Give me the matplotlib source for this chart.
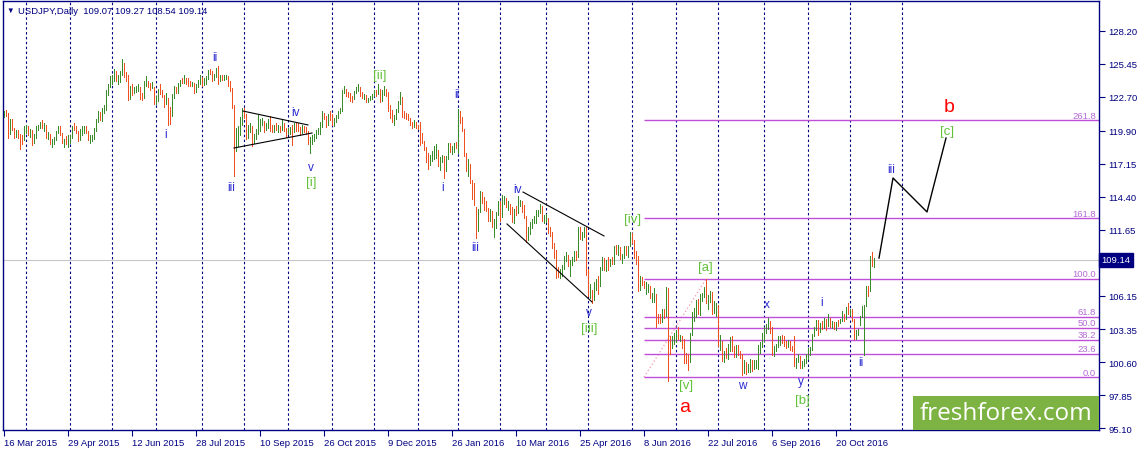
import numpy as np
import pandas as pd
import matplotlib
matplotlib.use("Agg")
import matplotlib.pyplot as plt
from matplotlib.patches import Rectangle
from matplotlib.transforms import blended_transform_factory


SYMBOL = "USDJPY,Daily"
FIRST_OPEN = 121.3
LAST_PRICE = 109.14

# daily bars Mar 2015 .. Nov 2016, one row per month
bar_close = [
    121.4, 121.35, 119.8, 120.75, 120.05, 119.7, 119.75, 119.6, 119.2, 119.15, 120.1, 120.15,
    119.7, 119.8, 119.0, 119.45, 120.1, 120.2, 120.6, 120.25, 120.25, 119.45, 119.6, 118.9, 118.95, 119.2, 119.7, 120.2, 119.6, 118.95, 119.0, 118.95, 119.0, 119.35,
    120.2, 120.1, 119.8, 119.4, 119.75, 119.75, 120.15, 119.85, 119.2, 119.3, 119.35, 120.05, 120.7, 121.3, 120.95, 121.5, 121.75, 123.1, 123.6, 124.05, 124.1,
    124.8, 124.2, 124.3, 124.6, 125.6, 124.55, 124.35, 122.45, 123.45, 123.35, 123.4, 123.4, 123.4, 122.75, 122.7, 123.9, 123.95, 123.75, 123.6, 123.85, 122.5, 122.5,
    123.15, 123.1, 122.8, 122.5, 122.6, 121.25, 121.1, 122.75, 123.45, 123.35, 123.75, 124.1, 124.05, 124.25, 123.95, 123.85, 123.8, 123.8, 123.25, 123.6, 123.95, 124.1, 123.9,
    123.95, 124.2, 124.8, 124.75, 124.2, 124.55, 125.05, 124.4, 124.4, 124.3, 124.35, 124.4, 123.8, 123.4, 122.0, 118.5, 118.95, 119.9, 120.6, 121.7, 121.2,
    119.7, 120.05, 120.05, 119.05, 119.4, 119.75, 120.25, 120.6, 120.6, 120.15, 120.4, 120.6, 120.0, 119.95, 120.3, 120.15, 120.25, 120.05, 120.55, 119.9, 119.8, 119.85,
    119.95, 119.85, 120.35, 120.2, 120.15, 119.9, 120.2, 120.1, 119.8, 118.85, 118.85, 119.45, 119.45, 119.85, 119.9, 120.3, 121.45, 121.05, 120.5, 121.1, 121.05, 120.6,
    120.75, 121.05, 121.5, 121.75, 123.15, 123.2, 123.15, 122.95, 122.6, 122.55, 123.15, 123.4, 123.4, 122.85, 122.8, 122.8, 122.5, 122.55, 122.65, 122.8, 123.15,
    123.05, 123.2, 122.55, 123.1, 123.35, 123.0, 121.6, 121.55, 120.85, 120.95, 121.65, 122.25, 122.65, 121.25, 121.15, 121.05, 120.9, 120.45, 120.4, 120.5, 120.25, 120.2,
    119.4, 119.05, 118.5, 117.7, 117.25, 117.7, 117.7, 118.1, 118.2, 117.0, 117.4, 117.75, 116.85, 117.6, 118.75, 118.25, 118.5, 118.75, 118.6, 121.1,
    120.95, 119.95, 117.9, 116.85, 116.85, 115.7, 115.0, 114.35, 112.4, 113.2, 114.6, 114.05, 113.95, 113.25, 112.55, 112.85, 111.95, 112.1, 112.95, 113.95, 112.65,
    114.0, 114.0, 113.7, 113.75, 113.4, 112.6, 113.3, 113.2, 113.8, 113.85, 113.15, 112.65, 111.45, 111.55, 111.95, 112.4, 112.4, 113.0, 113.05, 113.45, 112.45, 112.45, 112.55,
    111.65, 111.35, 110.3, 109.8, 108.1, 108.05, 108.05, 108.55, 109.3, 109.35, 108.8, 108.85, 109.25, 109.8, 109.4, 111.75, 111.15, 111.3, 111.4, 108.1, 106.35,
    106.45, 106.15, 107.05, 107.25, 107.1, 108.35, 109.3, 108.45, 108.95, 108.6, 109.05, 109.0, 110.2, 109.9, 110.15, 109.25, 109.35, 110.15, 109.75, 110.2, 111.1, 110.7,
    109.55, 108.95, 106.55, 107.55, 107.35, 106.9, 106.95, 106.95, 106.05, 106.05, 106.05, 104.25, 104.15, 104.05, 104.75, 104.6, 106.15, 102.25, 101.95, 102.65, 102.75, 103.2,
    102.55, 102.65, 102.05, 101.3, 100.85, 100.55, 102.9, 104.7, 104.75, 105.65, 104.85, 106.15, 106.2, 106.85, 106.0, 106.15, 106.35, 104.85, 105.3, 105.35, 102.05,
    102.3, 100.85, 101.3, 101.2, 101.8, 102.5, 101.85, 101.2, 101.9, 101.3, 101.25, 100.25, 100.25, 99.9, 100.2, 100.75, 100.25, 100.5, 100.5, 101.8, 101.95, 102.95, 103.45,
    103.45, 103.95, 103.45, 101.55, 101.75, 101.95, 102.6, 102.7, 102.55, 102.3, 102.05, 102.3, 101.75, 101.7, 100.35, 100.75, 100.95, 100.35, 100.5, 100.7, 101.05, 101.35,
    101.7, 102.9, 103.5, 103.95, 102.95, 103.65, 103.55, 104.25, 103.65, 104.2, 103.85, 103.85, 103.5, 103.95, 103.85, 104.2, 104.3, 104.25, 105.15, 104.7, 104.8,
    104.2, 102.75, 103.1, 103.1, 104.45, 105.2, 105.3, 106.85, 106.6, 109.2, 109.07, 109.14,
]

bar_high = [
    121.55, 121.6, 121.4, 120.9, 120.9, 120.1, 119.95, 119.95, 119.65, 119.5, 120.25, 120.35,
    120.3, 120.0, 119.95, 119.6, 120.3, 120.4, 120.65, 120.8, 120.55, 120.4, 119.8, 119.65, 119.2, 119.4, 119.85, 120.25, 120.3, 119.7, 119.2, 119.45, 119.5, 119.55,
    120.3, 120.5, 120.25, 119.9, 120.0, 120.3, 120.3, 120.3, 119.85, 119.5, 119.5, 120.1, 120.85, 121.5, 121.45, 121.75, 122.0, 123.3, 123.75, 124.45, 124.5,
    125.05, 124.85, 124.5, 124.85, 125.85, 125.5, 124.75, 124.5, 123.6, 123.8, 123.55, 123.65, 123.75, 123.5, 123.05, 124.0, 124.45, 124.05, 123.9, 123.95, 123.55, 122.8,
    123.35, 123.75, 123.25, 122.9, 123.0, 122.65, 121.85, 122.95, 123.65, 123.55, 123.9, 124.15, 124.3, 124.5, 124.3, 124.25, 124.05, 123.95, 123.85, 123.75, 124.1, 124.55, 124.35,
    124.3, 124.45, 124.95, 125.05, 124.9, 124.65, 125.15, 125.3, 124.55, 124.5, 124.55, 124.55, 124.45, 124.05, 123.45, 122.05, 120.15, 120.25, 121.0, 121.75, 121.75,
    121.3, 120.4, 120.55, 120.25, 119.6, 120.0, 121.2, 120.85, 120.95, 120.7, 120.5, 120.85, 121.1, 120.35, 120.35, 120.5, 120.35, 120.3, 120.75, 120.5, 120.1, 120.15,
    120.2, 120.35, 120.5, 120.55, 120.5, 120.2, 120.35, 120.3, 120.2, 119.85, 119.4, 119.55, 119.6, 119.95, 120.1, 120.6, 121.5, 121.35, 121.15, 121.25, 121.5, 121.25,
    120.95, 121.2, 121.55, 121.8, 123.25, 123.6, 123.35, 123.15, 123.05, 122.8, 123.2, 123.5, 123.75, 123.5, 123.1, 122.95, 122.85, 122.65, 122.8, 122.95, 123.3,
    123.3, 123.75, 123.4, 123.3, 123.65, 123.35, 123.1, 122.05, 121.65, 121.2, 121.7, 122.4, 123.1, 122.7, 121.5, 121.35, 121.3, 120.95, 120.65, 120.75, 120.6, 120.4,
    120.65, 119.7, 119.05, 118.55, 118.0, 117.9, 118.2, 118.65, 118.75, 118.3, 117.7, 117.85, 117.75, 117.75, 118.9, 118.85, 118.6, 118.85, 118.95, 121.7,
    121.5, 121.05, 120.05, 118.05, 117.55, 117.1, 115.8, 115.5, 113.55, 113.4, 114.85, 114.75, 114.35, 114.05, 113.45, 113.4, 113.2, 112.55, 113.1, 114.0, 114.0,
    114.55, 114.45, 114.25, 114.0, 113.8, 113.5, 113.4, 113.65, 114.45, 114.15, 114.0, 113.7, 112.75, 111.9, 112.25, 112.5, 112.75, 113.25, 113.3, 113.8, 113.6, 112.85, 112.95,
    112.6, 111.9, 111.45, 110.5, 109.95, 108.55, 108.35, 108.7, 109.45, 109.75, 109.5, 109.15, 109.4, 109.85, 109.9, 111.85, 111.85, 111.45, 111.9, 111.85, 108.4,
    107.15, 106.65, 107.3, 107.5, 107.75, 108.55, 109.4, 109.3, 109.15, 109.4, 109.2, 109.4, 110.25, 110.35, 110.4, 110.2, 109.6, 110.25, 110.3, 110.3, 111.45, 111.4,
    110.8, 109.85, 109.45, 107.8, 107.7, 107.4, 107.25, 107.1, 106.95, 106.4, 106.75, 106.3, 104.65, 104.6, 105.05, 105.0, 106.85, 106.8, 102.75, 102.8, 103.0, 103.3,
    103.5, 102.85, 102.75, 102.5, 101.35, 101.25, 103.0, 104.75, 105.15, 105.75, 105.9, 106.3, 106.4, 106.9, 107.5, 106.2, 106.55, 106.45, 105.7, 105.5, 105.4,
    102.85, 102.4, 101.5, 101.75, 102.1, 102.7, 102.8, 101.95, 102.05, 102.05, 101.5, 101.25, 100.8, 100.6, 100.45, 100.9, 100.8, 100.75, 100.8, 102.05, 102.25, 103.05, 103.55,
    103.8, 104.3, 104.0, 103.5, 101.95, 102.15, 102.75, 102.8, 102.9, 102.75, 102.35, 102.45, 102.4, 101.95, 102.8, 100.95, 101.3, 101.1, 100.7, 100.85, 101.25, 101.75,
    101.85, 102.95, 103.55, 104.15, 104.15, 103.85, 104.05, 104.3, 104.2, 104.65, 104.25, 104.05, 103.95, 103.95, 104.1, 104.2, 104.85, 104.6, 105.2, 105.5, 105.05,
    105.0, 104.2, 103.3, 103.4, 104.45, 105.3, 105.4, 106.95, 106.95, 109.45, 109.8, 109.27,
]

bar_low = [
    121.0, 121.1, 119.3, 119.6, 119.95, 119.3, 119.4, 119.3, 118.35, 118.75, 119.1, 119.7,
    119.55, 119.4, 118.7, 118.85, 119.3, 119.95, 120.1, 120.15, 119.85, 119.3, 119.2, 118.75, 118.55, 118.75, 119.1, 119.7, 119.5, 118.85, 118.55, 118.8, 118.5, 118.85,
    119.3, 119.95, 119.7, 119.05, 119.15, 119.5, 119.7, 119.7, 119.1, 118.9, 119.05, 119.2, 119.9, 120.6, 120.8, 120.7, 121.4, 121.65, 122.9, 123.5, 123.75,
    124.05, 124.0, 123.75, 123.95, 124.5, 124.35, 124.05, 122.45, 122.55, 122.9, 123.05, 123.15, 123.2, 122.55, 122.45, 122.6, 123.65, 123.55, 123.3, 123.45, 122.1, 122.15,
    122.35, 122.95, 122.7, 121.9, 122.15, 120.4, 120.45, 121.15, 122.65, 123.0, 123.05, 123.6, 123.85, 123.9, 123.75, 123.65, 123.6, 123.6, 123.0, 123.1, 123.5, 123.8, 123.65,
    123.7, 123.8, 124.2, 124.6, 124.0, 124.15, 124.4, 123.8, 124.0, 124.1, 124.15, 124.2, 123.65, 123.2, 121.8, 116.15, 118.2, 118.65, 119.5, 120.35, 120.95,
    119.2, 119.25, 119.75, 118.6, 118.85, 119.2, 119.65, 119.9, 120.35, 119.8, 119.95, 120.1, 119.9, 119.75, 119.75, 119.95, 119.8, 119.75, 119.95, 119.85, 119.4, 119.6,
    119.6, 118.7, 119.75, 119.85, 119.85, 119.55, 119.7, 119.75, 119.65, 118.75, 118.05, 118.75, 119.05, 119.3, 119.6, 119.65, 120.2, 120.85, 120.2, 120.35, 120.75, 120.35,
    120.3, 120.6, 120.95, 121.4, 121.55, 123.0, 122.8, 122.7, 122.35, 122.25, 122.55, 123.05, 123.2, 122.75, 122.65, 122.5, 122.25, 122.3, 122.45, 122.55, 122.75,
    122.8, 122.95, 122.3, 122.4, 122.9, 122.75, 121.5, 120.95, 120.65, 120.35, 120.85, 121.45, 122.1, 121.05, 120.95, 120.85, 120.75, 120.35, 120.1, 120.2, 120.1, 120.05,
    118.7, 118.85, 118.25, 117.3, 116.7, 117.0, 117.4, 117.5, 117.65, 116.95, 116.6, 117.25, 115.95, 116.5, 117.5, 118.1, 117.95, 118.1, 118.45, 118.0,
    120.5, 119.9, 117.75, 116.5, 116.15, 115.55, 114.2, 113.7, 110.98, 111.5, 113.1, 113.9, 113.25, 113.2, 112.35, 112.35, 111.85, 111.05, 111.8, 112.9, 112.4,
    112.7, 113.8, 113.5, 113.3, 112.95, 112.25, 112.2, 112.9, 113.0, 113.65, 113.1, 112.6, 110.65, 110.8, 111.3, 111.8, 112.2, 112.2, 112.8, 113.05, 112.35, 112.2, 112.3,
    111.4, 111.1, 110.1, 109.3, 107.65, 107.7, 107.6, 107.8, 108.4, 109.0, 108.6, 107.8, 108.7, 109.05, 109.1, 109.35, 110.9, 110.8, 111.05, 107.9, 106.1,
    105.95, 105.5, 105.75, 106.65, 106.25, 106.95, 108.3, 108.3, 108.2, 108.25, 108.6, 108.75, 108.8, 109.65, 109.5, 109.2, 108.9, 109.25, 109.55, 109.35, 110.25, 110.55,
    109.3, 108.8, 106.5, 106.6, 107.05, 106.8, 106.25, 106.45, 105.95, 105.65, 105.6, 103.55, 103.9, 103.85, 103.95, 104.25, 104.45, 99.0, 101.3, 101.8, 102.1, 102.25,
    102.5, 102.4, 101.8, 100.5, 100.55, 99.98, 100.6, 102.85, 104.05, 104.4, 104.65, 104.5, 105.7, 106.0, 105.55, 105.0, 105.6, 104.6, 104.7, 104.45, 101.95,
    101.6, 100.7, 100.65, 100.95, 100.85, 101.55, 101.5, 101.0, 101.05, 101.2, 100.95, 99.55, 99.7, 99.6, 99.8, 99.75, 99.85, 100.0, 100.15, 100.05, 101.4, 101.9, 102.35,
    103.0, 103.35, 103.0, 101.2, 101.1, 101.5, 101.9, 102.0, 102.2, 101.95, 101.75, 101.85, 101.6, 101.5, 100.25, 100.1, 100.6, 100.1, 100.1, 100.25, 100.55, 100.9,
    101.2, 101.65, 102.75, 103.3, 102.85, 103.1, 103.35, 103.45, 103.3, 103.65, 103.5, 103.45, 103.35, 103.25, 103.65, 103.85, 104.05, 104.0, 104.2, 104.6, 104.55,
    104.0, 102.55, 102.55, 102.85, 103.7, 104.4, 101.2, 105.3, 106.1, 106.55, 108.6, 108.54,
]

# fibonacci drawn on the Jun-Jul 2016 swing
FIB_START = "2016-06-08"
FIB_END = "2016-07-21"
FIB_LOW = 99.35
FIB_HIGH = 107.53
fib_ratios = [0.0, 23.6, 38.2, 50.0, 61.8, 100.0, 161.8, 261.8]

# hand drawn lines: (bar, price)
triangle_upper = [(119.5, 121.53), (152.0, 120.37)]
triangle_lower = [(115.0, 118.45), (154.0, 119.70)]
wedge_upper = [(259.5, 114.78), (300.0, 111.12)]
wedge_lower = [(251.5, 112.12), (294.0, 105.62)]

# projected path, bars after the last one
proj_bars = [2.5, 9.5, 26.5, 36.0]
proj_price = [109.28, 115.95, 113.12, 119.28]

# wave labels: text, bar, price, degree
wave_labels = [
    ("i", 81.0, 119.62, "minor"), ("ii", 105.5, 126.03, "minor"),
    ("iii", 113.5, 115.2, "minor"), ("iv", 145.5, 121.45, "minor"),
    ("v", 153.5, 116.87, "minor"), ("[i]", 153.5, 115.62, "inter"),
    ("[ii]", 188.0, 124.53, "inter"), ("i", 219.5, 115.2, "minor"),
    ("ii", 226.5, 122.95, "minor"), ("iii", 235.5, 110.2, "minor"),
    ("iv", 256.5, 115.03, "minor"), ("v", 292.5, 104.78, "minor"),
    ("[iii]", 292.5, 103.45, "inter"), ("[iv]", 314.5, 112.53, "inter"),
    ("[v]", 341.0, 98.7, "inter"), ("a", 340.5, 96.87, "major"),
    ("[a]", 350.5, 108.53, "inter"), ("w", 369.0, 98.7, "minor"),
    ("x", 381.5, 105.45, "minor"), ("y", 398.5, 99.03, "minor"),
    ("[b]", 399.0, 97.45, "inter"), ("i", 409.0, 105.62, "minor"),
    ("ii", 428.5, 100.62, "minor"), ("iii", 443.5, 116.7, "minor"),
    ("[c]", 471.5, 119.87, "inter"), ("b", 472.5, 121.87, "major"),
]

# 108.90 sits under the current price box
price_labels = ["128.20", "125.45", "122.70", "119.90", "117.15", "114.40", "111.65",
                "106.15", "103.35", "100.60", "97.85", "95.10"]

NAVY = "#000080"
UP = "#3a8c2a"
DOWN = "#ee5020"
FIB_COL = "#bf4fd9"
FIB_TXT = "#b46bd4"
WAVE_COL = {"minor": ("#2b2bd0", 8.5), "inter": ("#62c23a", 9.5), "major": ("#ff0000", 14)}

plt.rcParams["font.family"] = ["Liberation Sans", "DejaVu Sans"]

dates = pd.bdate_range("2015-03-16", "2016-11-16")
dates = dates.drop([pd.Timestamp("2015-12-25"), pd.Timestamp("2016-01-01")])
assert len(dates) == len(bar_close) == len(bar_high) == len(bar_low)

close = np.array(bar_close)
high = np.array(bar_high)
low = np.array(bar_low)
opens = np.concatenate([[FIRST_OPEN], close[:-1]])
idx = np.arange(len(close))
last = idx[-1]
up = close >= opens

W, H = 1139, 452
fig = plt.figure(figsize=(W / 100, H / 100), dpi=100)
ax = fig.add_axes([3 / W, 21 / H, 1096 / W, 429 / H])
ax.set_xlim(-0.5, 547.5)
ax.set_ylim(94.95, 130.7)

# month separators
month_start = [i for i in idx[1:] if dates[i].month != dates[i - 1].month]
grid_x = [i - 1 for i in month_start]
grid_x.append(last + (pd.Timestamp("2016-12-01") - dates[-1]).days - 1)
for g in grid_x:
    ax.axvline(g, color=NAVY, lw=0.8, ls=(0, (2.2, 2.2)), zorder=1)

ax.axhline(LAST_PRICE, color="#c8c8c8", lw=0.8, zorder=1)

ax.vlines(idx[up], low[up], high[up], color=UP, lw=0.5, antialiased=False, zorder=3)
ax.vlines(idx[~up], low[~up], high[~up], color=DOWN, lw=0.5, antialiased=False, zorder=3)

# fibonacci
fib_a = dates.get_loc(pd.Timestamp(FIB_START))
fib_b = dates.get_loc(pd.Timestamp(FIB_END))
ax.plot([fib_a, fib_b], [FIB_LOW, FIB_HIGH], ls=":", color="#f5a6b8", lw=1.0, zorder=2)
for r in fib_ratios:
    lvl = FIB_LOW + (FIB_HIGH - FIB_LOW) * r / 100
    ax.hlines(lvl, fib_a, 547.5, color=FIB_COL, lw=1.0, zorder=2)
    ax.annotate(f"{r:.1f}", xy=(547.5, lvl), xytext=(-2, 0.5), textcoords="offset points",
                ha="right", va="bottom", color=FIB_TXT, fontsize=6.8)

for line in (triangle_upper, triangle_lower, wedge_upper, wedge_lower):
    xs, ys = zip(*line)
    ax.plot(xs, ys, color="black", lw=0.8, zorder=4)

ax.plot([last + b for b in proj_bars], proj_price, color="black", lw=1.0, zorder=4)

for text, b, p, kind in wave_labels:
    col, size = WAVE_COL[kind]
    ax.text(b, p, text, color=col, fontsize=size, ha="center", va="center", zorder=5)

# axes styling
for s in ax.spines.values():
    s.set_color(NAVY)
    s.set_linewidth(1.0)

tick_idx = idx[::32]
ax.set_xticks(tick_idx)
ax.set_xticklabels([f"{dates[i].day} {dates[i].strftime('%b %Y')}" for i in tick_idx],
                   ha="left", fontsize=6.8, color=NAVY)
ax.yaxis.tick_right()
ax.set_yticks([float(v) for v in price_labels])
ax.set_yticklabels(price_labels, fontsize=6.8, color=NAVY)
ax.tick_params(axis="x", length=4, color=NAVY, pad=2)
ax.tick_params(axis="y", length=4, color=NAVY, pad=3)

trans = blended_transform_factory(ax.transAxes, ax.transData)
ax.text(1.0025, LAST_PRICE, f"{LAST_PRICE:.2f}", transform=trans, ha="left", va="center",
        color="white", fontsize=6.8, zorder=10,
        bbox=dict(boxstyle="square,pad=0.25", fc=NAVY, ec=NAVY))

# header
fig.text(6 / W, 1 - 11 / H, "\u25bc", color=NAVY, fontsize=5.5, va="center", ha="left")
fig.text(18 / W, 1 - 11 / H,
         f"{SYMBOL}  {opens[-1]:.2f} {high[-1]:.2f} {low[-1]:.2f} {close[-1]:.2f}",
         color=NAVY, fontsize=6.8, va="center", ha="left")

# logo
fig.patches.append(Rectangle((913 / W, 21 / H), 186 / W, 34 / H, transform=fig.transFigure,
                             fc="#7cb342", ec="none", zorder=20))
fig.text(1006 / W, 1 - 414 / H, "freshforex.com", color="white", fontsize=17.5,
         family=["Open Sans", "DejaVu Sans"], ha="center", va="center", zorder=21)

fig.savefig("out.png", dpi=100, facecolor="white")
